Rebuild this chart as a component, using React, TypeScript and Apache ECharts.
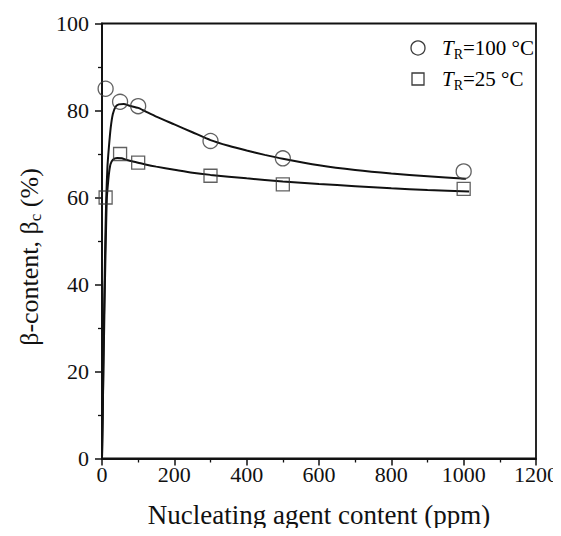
import React, { useEffect, useRef } from "react";
import * as echarts from "echarts";

// Axis ranges / ticks
const xTickValues = [0, 200, 400, 600, 800, 1000, 1200];
const yTickValues = [0, 20, 40, 60, 80, 100];

// Measured points (nucleating agent content in ppm, beta content in %)
const contentPpm = [10, 50, 100, 300, 500, 1000];
const betaTR100 = [85, 82, 81, 73, 69, 66];
const betaTR25 = [60, 70, 68, 65, 63, 62];

// Fitted curves
const fit100X = [0, 2, 3.5, 5, 7.2, 9.5, 11.8, 15, 19, 24, 30, 38, 46.5, 60, 76, 100, 120, 150, 200, 250, 300, 350, 400, 450, 500, 600, 700, 800, 900, 1006];
const fit100Y = [0, 10, 20, 30, 40.8, 52, 60, 67, 71.5, 76, 79.2, 80.9, 81.4, 81.5, 81.1, 80.6, 79.8, 78.6, 76.8, 75.0, 73.2, 71.9, 70.8, 69.8, 68.9, 67.4, 66.3, 65.5, 64.9, 64.3];
const fit25X = [0, 2, 3.8, 6, 8, 11, 13.5, 17.3, 20, 23.7, 30, 42, 55, 74, 100, 120, 150, 200, 250, 300, 400, 500, 600, 700, 800, 900, 1015];
const fit25Y = [0, 10, 20, 30, 40, 52, 60, 63.9, 66, 67.7, 68.7, 69.1, 69.0, 68.5, 68.0, 67.6, 67.1, 66.4, 65.7, 65.2, 64.4, 63.7, 63.1, 62.6, 62.1, 61.7, 61.4];

const legendLabels = ["=100 °C", "=25 °C"];

const FONT = "'Liberation Serif', 'Times New Roman', serif";

const zip = (xs: number[], ys: number[]) => xs.map((x, i) => [x, ys[i]]);

export default function App() {
  const ref = useRef<HTMLDivElement>(null);

  useEffect(() => {
    if (!ref.current) return;
    const chart = echarts.init(ref.current, undefined, { renderer: "svg" });

    const markerStyle = {
      color: "rgba(255,255,255,0)",
      borderColor: "#3a3a3a",
      borderWidth: 1.3,
    };

    const legendRich = {
      i: { fontFamily: FONT, fontStyle: "italic", fontSize: 21, color: "#111" },
      s: { fontFamily: FONT, fontSize: 14, color: "#111", padding: [12, 0, 0, 0] },
      n: { fontFamily: FONT, fontSize: 21, color: "#111" },
    };

    chart.setOption({
      animation: false,
      backgroundColor: "#ffffff",
      grid: {
        left: 102,
        right: 25,
        top: 23.5,
        bottom: 77.5,
        show: true,
        borderColor: "#111",
        borderWidth: 1.8,
        backgroundColor: "transparent",
      },
      xAxis: {
        type: "value",
        min: xTickValues[0],
        max: xTickValues[xTickValues.length - 1],
        interval: 200,
        name: "Nucleating agent content (ppm)",
        nameLocation: "middle",
        nameGap: 43,
        nameTextStyle: { fontFamily: FONT, fontSize: 27, color: "#111" },
        axisLine: { show: true, onZero: false, lineStyle: { color: "#111", width: 1.8 } },
        axisTick: { show: true, inside: false, length: 7, lineStyle: { color: "#111", width: 1.5 } },
        minorTick: { show: true, splitNumber: 2, length: 4, lineStyle: { color: "#111", width: 1.3 } },
        axisLabel: {
          fontFamily: FONT,
          fontSize: 22,
          color: "#111",
          margin: 5,
          formatter: (v: number) => String(v),
        },
        splitLine: { show: false },
      },
      yAxis: {
        type: "value",
        min: yTickValues[0],
        max: yTickValues[yTickValues.length - 1],
        interval: 20,
        axisLine: { show: true, onZero: false, lineStyle: { color: "#111", width: 1.8 } },
        axisTick: { show: true, inside: false, length: 7, lineStyle: { color: "#111", width: 1.5 } },
        minorTick: { show: true, splitNumber: 2, length: 4, lineStyle: { color: "#111", width: 1.3 } },
        axisLabel: {
          fontFamily: FONT,
          fontSize: 22,
          color: "#111",
          margin: 13,
          formatter: (v: number) => String(v),
        },
        splitLine: { show: false },
      },
      series: [
        {
          name: "fit TR=100",
          type: "line",
          data: zip(fit100X, fit100Y),
          showSymbol: false,
          symbol: "none",
          smooth: 0.2,
          lineStyle: { color: "#111", width: 2 },
          z: 2,
        },
        {
          name: "fit TR=25",
          type: "line",
          data: zip(fit25X, fit25Y),
          showSymbol: false,
          symbol: "none",
          smooth: 0.2,
          lineStyle: { color: "#111", width: 2 },
          z: 2,
        },
        {
          name: "TR=100 °C",
          type: "scatter",
          data: zip(contentPpm, betaTR100),
          symbol: "circle",
          symbolSize: 15,
          itemStyle: markerStyle,
          z: 3,
        },
        {
          name: "TR=25 °C",
          type: "scatter",
          data: zip(contentPpm, betaTR25),
          symbol: "rect",
          symbolSize: 13,
          itemStyle: markerStyle,
          z: 3,
        },
      ],
      graphic: [
        {
          type: "text",
          x: 29,
          y: 257,
          rotation: Math.PI / 2,
          style: {
            text: "β-content, β{sub|c} (%)",
            fontFamily: FONT,
            fontSize: 26,
            fill: "#111",
            align: "center",
            verticalAlign: "middle",
            rich: {
              sub: { fontFamily: FONT, fontSize: 17, color: "#111", padding: [13, 0, 0, 0] },
            },
          },
        },
        {
          type: "circle",
          shape: { cx: 418, cy: 48, r: 7 },
          style: { fill: "none", stroke: "#3a3a3a", lineWidth: 1.3 },
        },
        {
          type: "rect",
          shape: { x: 412, y: 73, width: 12, height: 12 },
          style: { fill: "none", stroke: "#3a3a3a", lineWidth: 1.3 },
        },
        {
          type: "text",
          x: 442,
          y: 48,
          style: {
            text: "{i|T}{s|R}{n|" + legendLabels[0] + "}",
            verticalAlign: "middle",
            align: "left",
            rich: legendRich,
          },
        },
        {
          type: "text",
          x: 442,
          y: 79,
          style: {
            text: "{i|T}{s|R}{n|" + legendLabels[1] + "}",
            verticalAlign: "middle",
            align: "left",
            rich: legendRich,
          },
        },
      ],
    });

    return () => chart.dispose();
  }, []);

  return <div ref={ref} style={{ width: 561, height: 536, margin: -8 }} />;
}
